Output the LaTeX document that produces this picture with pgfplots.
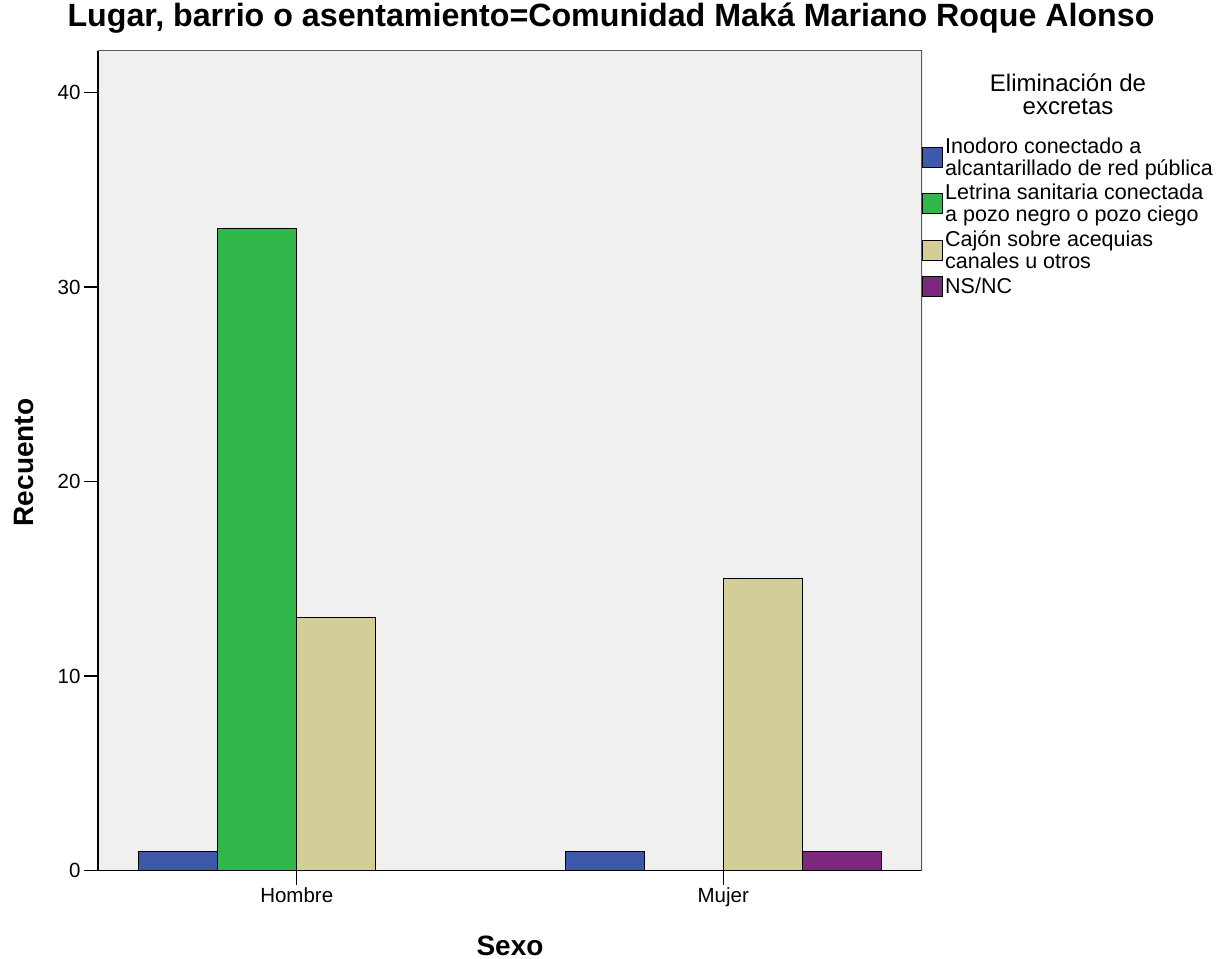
\documentclass[border=0pt]{standalone}
\usepackage{pgfplots}
\usepackage{pgfplotstable}
\pgfplotsset{compat=1.18}
\usepackage{fontspec}
\setmainfont{Liberation Sans}

\definecolor{cblue}{RGB}{62,88,172}
\definecolor{cgreen}{RGB}{48,184,74}
\definecolor{ctan}{RGB}{211,206,151}
\definecolor{cpurple}{RGB}{123,40,125}
\definecolor{plotbg}{RGB}{240,240,240}

% Sexo: 0 = Hombre, 1 = Mujer
\pgfplotstableread{
x inodoro letrina cajon nsnc
0 1 33 13 0
1 1 0 15 1
}\datos

\begin{document}
\begin{tikzpicture}
\path (0,0) rectangle (1231pt,956pt);
\begin{axis}[
  at={(98pt,88pt)}, anchor=south west,
  scale only axis, width=824pt, height=820pt,
  xmin=-0.466, xmax=1.466, ymin=0, ymax=42.16,
  axis x line*=bottom, axis y line*=left,
  xtick={0,1}, xticklabels={Hombre,Mujer},
  ytick={0,10,20,30,40},
  tick align=outside, major tick length=14pt,
  axis background/.style={fill=plotbg},
  axis line style={black, line width=1.2pt},
  tick style={black, line width=1.2pt},
  tick label style={font=\fontsize{20.5}{24}\selectfont},
  /pgf/number format/assume math mode=true,
  title={Lugar, barrio o asentamiento=Comunidad Maká Mariano Roque Alonso},
  title style={font=\bfseries\fontsize{32.2}{36}\selectfont,
    at={(axis description cs:0.6226,1.0317)}, anchor=center},
  xlabel={Sexo}, ylabel={Recuento},
  xlabel style={font=\bfseries\fontsize{28}{32}\selectfont,
    at={(axis description cs:0.5,-0.0915)}, anchor=center},
  ylabel style={font=\bfseries\fontsize{28}{32}\selectfont,
    at={(axis description cs:-0.0898,0.4976)}, anchor=center},
  legend style={at={(axis description cs:1,0.8963)}, anchor=north west,
    draw=none, fill=none, inner sep=0pt, row sep=3.5pt,
    font=\fontsize{21.5}{22}\selectfont,
    cells={anchor=west, align=left}},
  legend image code/.code={\draw[#1, draw=black, line width=1pt] (0pt,-10pt) rectangle (20pt,10pt);},
]
\addplot[ybar, bar width=0.1853, bar shift=-0.278, fill=cblue, draw=black, line width=1pt]
  table[x=x, y=inodoro]{\datos};
\addplot[ybar, bar width=0.1853, bar shift=-0.0927, fill=cgreen, draw=black, line width=1pt]
  table[x=x, y=letrina]{\datos};
\addplot[ybar, bar width=0.1853, bar shift=0.0927, fill=ctan, draw=black, line width=1pt]
  table[x=x, y=cajon]{\datos};
\addplot[ybar, bar width=0.1853, bar shift=0.278, fill=cpurple, draw=black, line width=1pt]
  table[x=x, y=nsnc]{\datos};
\legend{Inodoro conectado a\\alcantarillado de red pública,
  Letrina sanitaria conectada\\a pozo negro o pozo ciego,
  Cajón sobre acequias\\canales u otros,
  NS/NC}
\draw[black!65, line width=1.5pt] (rel axis cs:0,1) -- (rel axis cs:1,1) -- (rel axis cs:1,0);
\end{axis}
\node[font=\fontsize{24}{23}\selectfont, align=center] at (1068pt,864.5pt) {Eliminación de\\excretas};
\end{tikzpicture}
\end{document}
